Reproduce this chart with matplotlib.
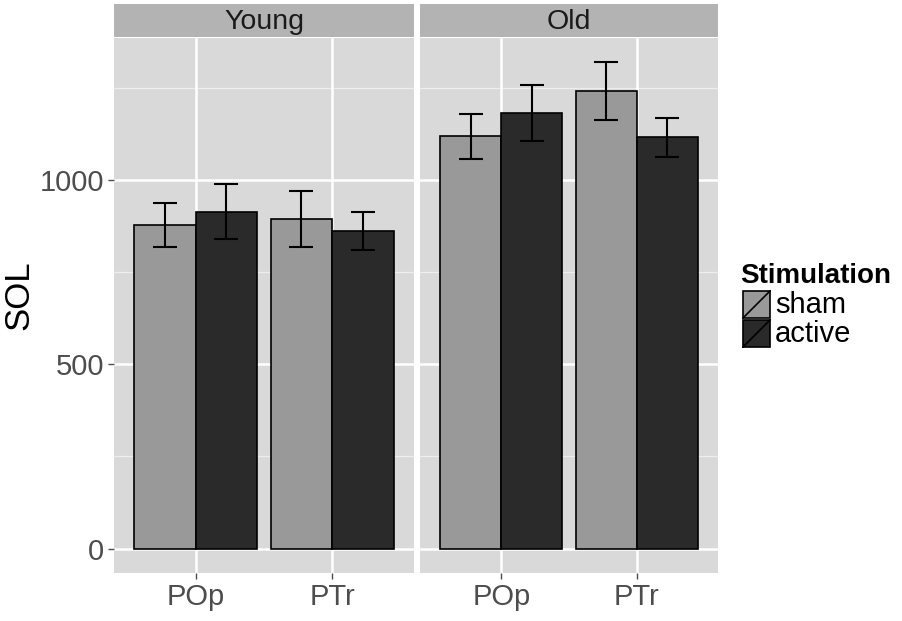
import numpy as np
import matplotlib
matplotlib.use("Agg")
import matplotlib.pyplot as plt
from matplotlib.patches import Rectangle
from matplotlib.lines import Line2D

plt.rcParams['font.family'] = ['Liberation Sans', 'DejaVu Sans']

# data
groups = ["Young", "Old"]
regions = ["POp", "PTr"]
stims = ["sham", "active"]
sol_mean = {
  "Young": {"sham": [877, 895], "active": [914, 861]},
  "Old": {"sham": [1119, 1241], "active": [1182, 1116]},
}
sol_lo = {
  "Young": {"sham": [818, 818], "active": [840, 809]},
  "Old": {"sham": [1058, 1163], "active": [1105, 1062]},
}
sol_hi = {
  "Young": {"sham": [937, 970], "active": [988, 913]},
  "Old": {"sham": [1180, 1319], "active": [1258, 1169]},
}
fills = {"sham": "#999999", "active": "#2a2a2a"}

W, H = 902, 621
fig = plt.figure(figsize=(W / 100, H / 100), dpi=100)

def fig_rect(x0, y0, x1, y1):
  # pixel box (top-left origin) -> figure fraction
  return [x0 / W, 1 - y1 / H, (x1 - x0) / W, (y1 - y0) / H]

panel_px = [(114, 414), (420, 718)]
bar_w = 0.45
ylim = (-66, 1385)

for i, g in enumerate(groups):
  x0, x1 = panel_px[i]
  ax = fig.add_axes(fig_rect(x0, 38, x1, 573))
  ax.set_facecolor("#d9d9d9")
  for s in ax.spines.values():
    s.set_visible(False)
  ax.set_xlim(0.4, 2.6)
  ax.set_ylim(*ylim)
  for y in [250, 750, 1250]:
    ax.axhline(y, color="#eeeeee", lw=0.9, zorder=0)
  for y in [0, 500, 1000]:
    ax.axhline(y, color="white", lw=1.8, zorder=0)
  for x in [1, 2]:
    ax.axvline(x, color="white", lw=1.8, zorder=0)

  xpos = np.arange(1, len(regions) + 1)
  for j, st in enumerate(stims):
    xs = xpos + (j - 0.5) * bar_w
    ax.bar(xs, sol_mean[g][st], width=bar_w, color=fills[st],
           edgecolor="black", linewidth=1.2, zorder=2)
    lo = np.array(sol_lo[g][st])
    hi = np.array(sol_hi[g][st])
    ax.vlines(xs, lo, hi, color="black", lw=1.5, zorder=3)
    ax.hlines(lo, xs - 0.088, xs + 0.088, color="black", lw=1.5, zorder=3)
    ax.hlines(hi, xs - 0.088, xs + 0.088, color="black", lw=1.5, zorder=3)

  ax.set_xticks(xpos)
  ax.set_xticklabels(regions)
  ax.set_yticks([0, 500, 1000])
  ax.tick_params(axis="both", colors="#4d4d4d", labelsize=21, length=4,
                 width=1, pad=3)
  if i == 0:
    ax.set_yticklabels(["0", "500", "1000"])
  else:
    ax.tick_params(axis="y", left=False, labelleft=False)

  # facet strip
  sax = fig.add_axes(fig_rect(x0, 4, x1, 37))
  sax.set_facecolor("#b3b3b3")
  sax.set_xticks([])
  sax.set_yticks([])
  for s in sax.spines.values():
    s.set_visible(False)
  sax.text(0.5, 0.45, g, ha="center", va="center", fontsize=20.5,
           color="#1a1a1a", transform=sax.transAxes)

fig.text(19 / W, 1 - 295 / H, "SOL", fontsize=25, rotation=90,
         ha="center", va="center")

# legend
fig.text(740 / W, 1 - 276 / H, "Stimulation", fontsize=20, fontweight="bold",
         ha="left", va="center")
for k, st in enumerate(stims):
  top = 290 + k * 29
  lax = fig.add_axes(fig_rect(742, top, 771, top + 29))
  lax.set_xlim(0, 1)
  lax.set_ylim(0, 1)
  lax.axis("off")
  lax.add_patch(Rectangle((0.03, 0.03), 0.94, 0.94, facecolor=fills[st],
                          edgecolor="black", lw=1.2))
  lax.add_line(Line2D([0.03, 0.97], [0.03, 0.97], color="black", lw=1.2))
  fig.text(775 / W, 1 - (top + 15) / H, st, fontsize=21, ha="left",
           va="center")

fig.savefig("out.png", dpi=100, facecolor="white")
